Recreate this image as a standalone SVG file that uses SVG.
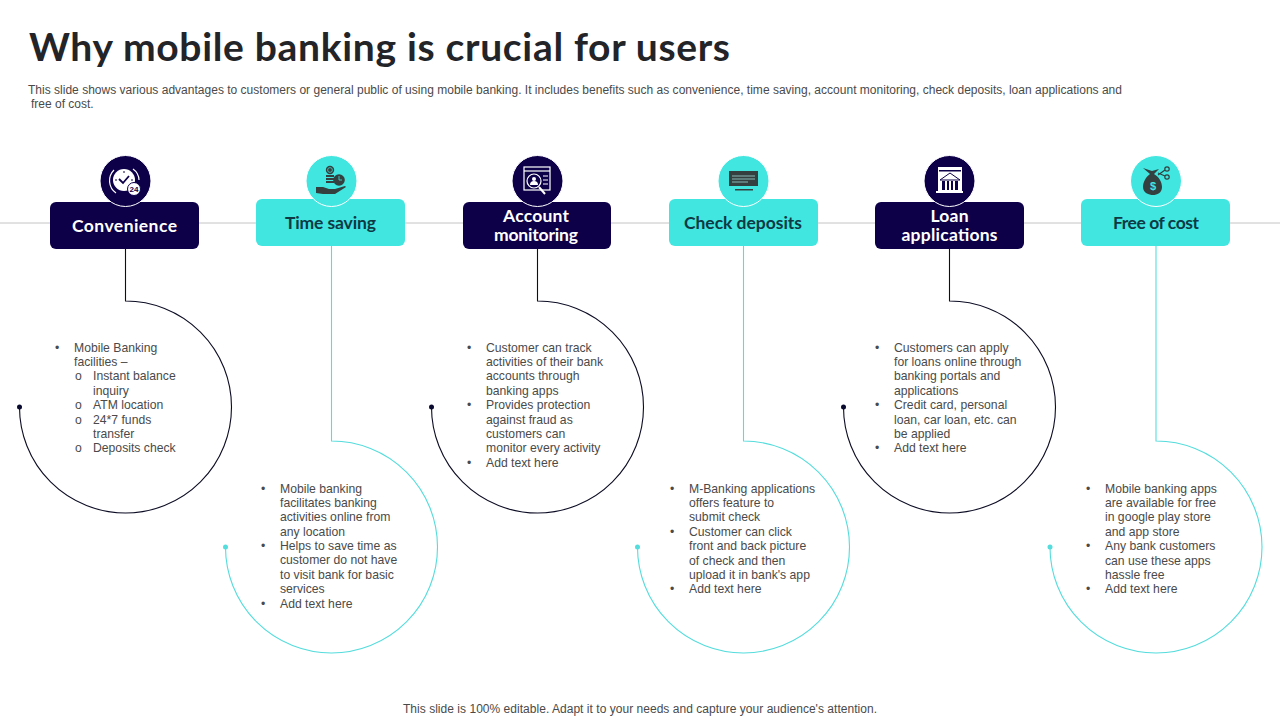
<svg xmlns="http://www.w3.org/2000/svg" width="1280" height="720" viewBox="0 0 1280 720">
<style>
text{font-family:"Liberation Sans",Arial,sans-serif}
.title{font-family:Lato,"Liberation Sans",sans-serif;font-size:39px;font-weight:700;fill:#222428}
.sub{font-size:12px;fill:#4a4a4a}
.body{font-size:12.2px;fill:#4a4a4a}
.hd{font-family:Lato,"Liberation Sans",sans-serif;font-size:17.500px;font-weight:700;text-anchor:middle}
.hdw{fill:#fff}.hdt{fill:#0f3a45}
.navy{fill:#0e0048}.teal{fill:#40e6df}
.cn{fill:none;stroke-width:1.100}
.cnn{stroke:#0c0c24}.cnt{stroke:#55dcdc}
.ring{stroke:#fff;stroke-width:1}
.iw{fill:#fff}.iwl{fill:none;stroke:#fff;stroke-width:1.200}
.id{fill:#33403f}.idl{fill:none;stroke:#33403f;stroke-width:1.200}
</style>
<rect width="1280" height="720" fill="#fff"/>
<text class="title" x="29" y="61" textLength="701" lengthAdjust="spacing">Why mobile banking is crucial for users</text>
<text class="sub" x="28" y="93.500" textLength="1094" lengthAdjust="spacing">This slide shows various advantages to customers or general public of using mobile banking. It includes benefits such as convenience, time saving, account monitoring, check deposits, loan applications and</text>
<text class="sub" x="31" y="108">free of cost.</text>
<line x1="0" y1="223" x2="1280" y2="223" stroke="#c4c4c4" stroke-width="1"/>

<g id="connectors">
<path class="cn cnn" d="M125.500 249V301A106 106 0 1 1 19.500 407"/><circle cx="19.500" cy="407" r="2.500" fill="#0a0a30"/>
<path class="cn cnt" d="M331.500 246V441A106 106 0 1 1 225.500 547"/><circle cx="225.500" cy="547" r="2.500" fill="#55dcdc"/>
<path class="cn cnn" d="M537.500 249V301A106 106 0 1 1 431.500 407"/><circle cx="431.500" cy="407" r="2.500" fill="#0a0a30"/>
<path class="cn cnt" d="M743.500 246V441A106 106 0 1 1 637.500 547"/><circle cx="637.500" cy="547" r="2.500" fill="#55dcdc"/>
<path class="cn cnn" d="M949.500 249V301A106 106 0 1 1 843.500 407"/><circle cx="843.500" cy="407" r="2.500" fill="#0a0a30"/>
<path class="cn cnt" d="M1156 246V441A106 106 0 1 1 1050 547"/><circle cx="1050" cy="547" r="2.500" fill="#55dcdc"/>
</g>

<g id="node-convenience">
<rect class="navy" x="50" y="202" width="149" height="47" rx="6"/>
<circle class="navy ring" cx="125.500" cy="181" r="25.500"/>
<circle class="iw" cx="124" cy="180" r="11"/>
<path class="iwl" d="M114 170A15 15 0 0 0 116 193M133 169A14 14 0 0 1 139 180"/>
<path d="M124 171v2M115 180h2M131 180h2" stroke="#0e0048"/>
<path d="M119 179l4 4 6-7" fill="none" stroke="#0e0048" stroke-width="1.800"/>
<circle cx="134" cy="189" r="6.500" fill="#fff" stroke="#0e0048"/>
<text x="134" y="192" font-size="8" font-weight="700" text-anchor="middle" fill="#0e0048">24</text>
<text class="hd hdw" x="124.500" y="232" textLength="105" lengthAdjust="spacing">Convenience</text>
</g>
<g id="node-time-saving">
<rect class="teal" x="256" y="199" width="149" height="47" rx="6"/>
<circle class="teal ring" cx="331.500" cy="181" r="25.500"/>
<circle class="id" cx="330" cy="170" r="4.200"/>
<circle cx="330" cy="170" r="2.400" fill="none" stroke="#40e6df" stroke-width=".700"/>
<rect class="id" x="326" y="175" width="8" height="2"/><rect class="id" x="326" y="178" width="8" height="2"/><rect class="id" x="326" y="181" width="8" height="2"/>
<circle class="id" cx="339" cy="180" r="5.800"/>
<path d="M339 176v4h3" fill="none" stroke="#40e6df" stroke-width=".800"/>
<path class="id" d="M316 187h7l6 2h6l10-3 1 1-11 7h-12l-7-1z"/>
<text class="hd hdt" x="330.500" y="229" textLength="91" lengthAdjust="spacing">Time saving</text>
</g>
<g id="node-account-monitoring">
<rect class="navy" x="463" y="202" width="148" height="47" rx="6"/>
<circle class="navy ring" cx="537.500" cy="181" r="25.500"/>
<rect class="iwl" x="524" y="167" width="26" height="23"/>
<line class="iwl" x1="524" y1="171" x2="550" y2="171"/>
<circle class="iwl" cx="534" cy="181" r="7"/>
<circle class="iw" cx="534" cy="179" r="2"/><path class="iw" d="M530 185a4 4 0 0 1 8 0z"/>
<path class="iwl" d="M543 176h5M543 180h5M543 184h5"/>
<line x1="539" y1="187" x2="545" y2="194" stroke="#fff" stroke-width="2"/>
<text class="hd hdw"><tspan x="536" y="222" textLength="66" lengthAdjust="spacing">Account</tspan><tspan x="536" y="241" textLength="84" lengthAdjust="spacing">monitoring</tspan></text>
</g>
<g id="node-check-deposits">
<rect class="teal" x="669" y="199" width="149" height="47" rx="6"/>
<circle class="teal ring" cx="743.500" cy="181" r="25.500"/>
<rect class="id" x="729" y="171" width="29" height="15"/>
<path d="M732 176h23M732 179h23M732 182h16" stroke="#9fd8d6" stroke-width=".800"/>
<rect class="id" x="735" y="189" width="18" height="1.500"/>
<text class="hd hdt" x="743" y="229" textLength="118" lengthAdjust="spacing">Check deposits</text>
</g>
<g id="node-loan-applications">
<rect class="navy" x="875" y="202" width="149" height="47" rx="6"/>
<circle class="navy ring" cx="949.500" cy="181" r="25.500"/>
<rect class="iw" x="938" y="167" width="24" height="25"/>
<rect x="939" y="170" width="22" height="1.500" fill="#0e0048"/>
<path d="M950 173l-10 7h20z" fill="none" stroke="#0e0048"/>
<path d="M942 181h3v9h-3zM947 181h2v9h-2zM951 181h2v9h-2zM955 181h3v9h-3z" fill="#0e0048"/>
<rect class="iw" x="936" y="191" width="27" height="2"/>
<text class="hd hdw"><tspan x="949.500" y="222" textLength="38" lengthAdjust="spacing">Loan</tspan><tspan x="949.500" y="241" textLength="96" lengthAdjust="spacing">applications</tspan></text>
</g>
<g id="node-free-of-cost">
<rect class="teal" x="1081" y="199" width="149" height="47" rx="6"/>
<circle class="teal ring" cx="1156" cy="181" r="25.500"/>
<path class="id" d="M1143 168l9 3 7-2-5 5c5 3 8 8 8 13 0 6-5 8-9 8s-10-2-10-8c0-5 3-10 7-13z"/>
<path class="idl" d="M1158 175l7-5M1158 173l7 3"/>
<circle class="idl" cx="1167" cy="169" r="2.200"/><circle class="idl" cx="1167" cy="177" r="2.200"/>
<text x="1153" y="190" font-size="11" font-weight="700" text-anchor="middle" fill="#40e6df">$</text>
<text class="hd hdt" x="1156" y="229" textLength="86" lengthAdjust="spacing">Free of cost</text>
</g>

<g id="text-1" class="body">
<text x="55" y="352">•</text><text x="74" y="352">Mobile Banking</text><text x="74" y="366">facilities –</text>
<text x="75" y="380">o</text><text x="93" y="380">Instant balance</text><text x="93" y="395">inquiry</text>
<text x="75" y="409">o</text><text x="93" y="409">ATM  location</text>
<text x="75" y="424">o</text><text x="93" y="424">24*7 funds</text><text x="93" y="438">transfer</text>
<text x="75" y="452">o</text><text x="93" y="452">Deposits check</text>
</g>
<g id="text-2" class="body">
<text x="261" y="493">•</text><text x="280" y="493">Mobile banking</text><text x="280" y="507">facilitates banking</text><text x="280" y="521">activities online from</text><text x="280" y="536">any location</text>
<text x="261" y="550">•</text><text x="280" y="550">Helps to save time as</text><text x="280" y="564">customer do not have</text><text x="280" y="579">to visit bank for basic</text><text x="280" y="593">services</text>
<text x="261" y="608">•</text><text x="280" y="608">Add text here</text>
</g>
<g id="text-3" class="body">
<text x="467" y="352">•</text><text x="486" y="352">Customer can track</text><text x="486" y="366">activities of their bank</text><text x="486" y="380">accounts through</text><text x="486" y="395">banking apps</text>
<text x="467" y="409">•</text><text x="486" y="409">Provides protection</text><text x="486" y="424">against fraud as</text><text x="486" y="438">customers can</text><text x="486" y="452">monitor every activity</text>
<text x="467" y="467">•</text><text x="486" y="467">Add text here</text>
</g>
<g id="text-4" class="body">
<text x="670" y="493">•</text><text x="689" y="493">M-Banking applications</text><text x="689" y="507">offers feature to</text><text x="689" y="521">submit check</text>
<text x="670" y="536">•</text><text x="689" y="536">Customer can click</text><text x="689" y="550">front and back picture</text><text x="689" y="565">of check and then</text><text x="689" y="579">upload it in bank's app</text>
<text x="670" y="593">•</text><text x="689" y="593">Add text here</text>
</g>
<g id="text-5" class="body">
<text x="875" y="352">•</text><text x="894" y="352">Customers can apply</text><text x="894" y="366">for loans online through</text><text x="894" y="380">banking portals and</text><text x="894" y="395">applications</text>
<text x="875" y="409">•</text><text x="894" y="409">Credit card, personal</text><text x="894" y="424">loan, car loan, etc. can</text><text x="894" y="438">be applied</text>
<text x="875" y="452">•</text><text x="894" y="452">Add text here</text>
</g>
<g id="text-6" class="body">
<text x="1086" y="493">•</text><text x="1105" y="493">Mobile banking apps</text><text x="1105" y="507">are available for free</text><text x="1105" y="521">in google play store</text><text x="1105" y="536">and app store</text>
<text x="1086" y="550">•</text><text x="1105" y="550">Any bank customers</text><text x="1105" y="565">can use these apps</text><text x="1105" y="579">hassle free</text>
<text x="1086" y="593">•</text><text x="1105" y="593">Add text here</text>
</g>
<text class="sub" x="403" y="713" textLength="474" lengthAdjust="spacing">This slide is 100% editable. Adapt it to your needs and capture your audience's attention.</text>
</svg>
